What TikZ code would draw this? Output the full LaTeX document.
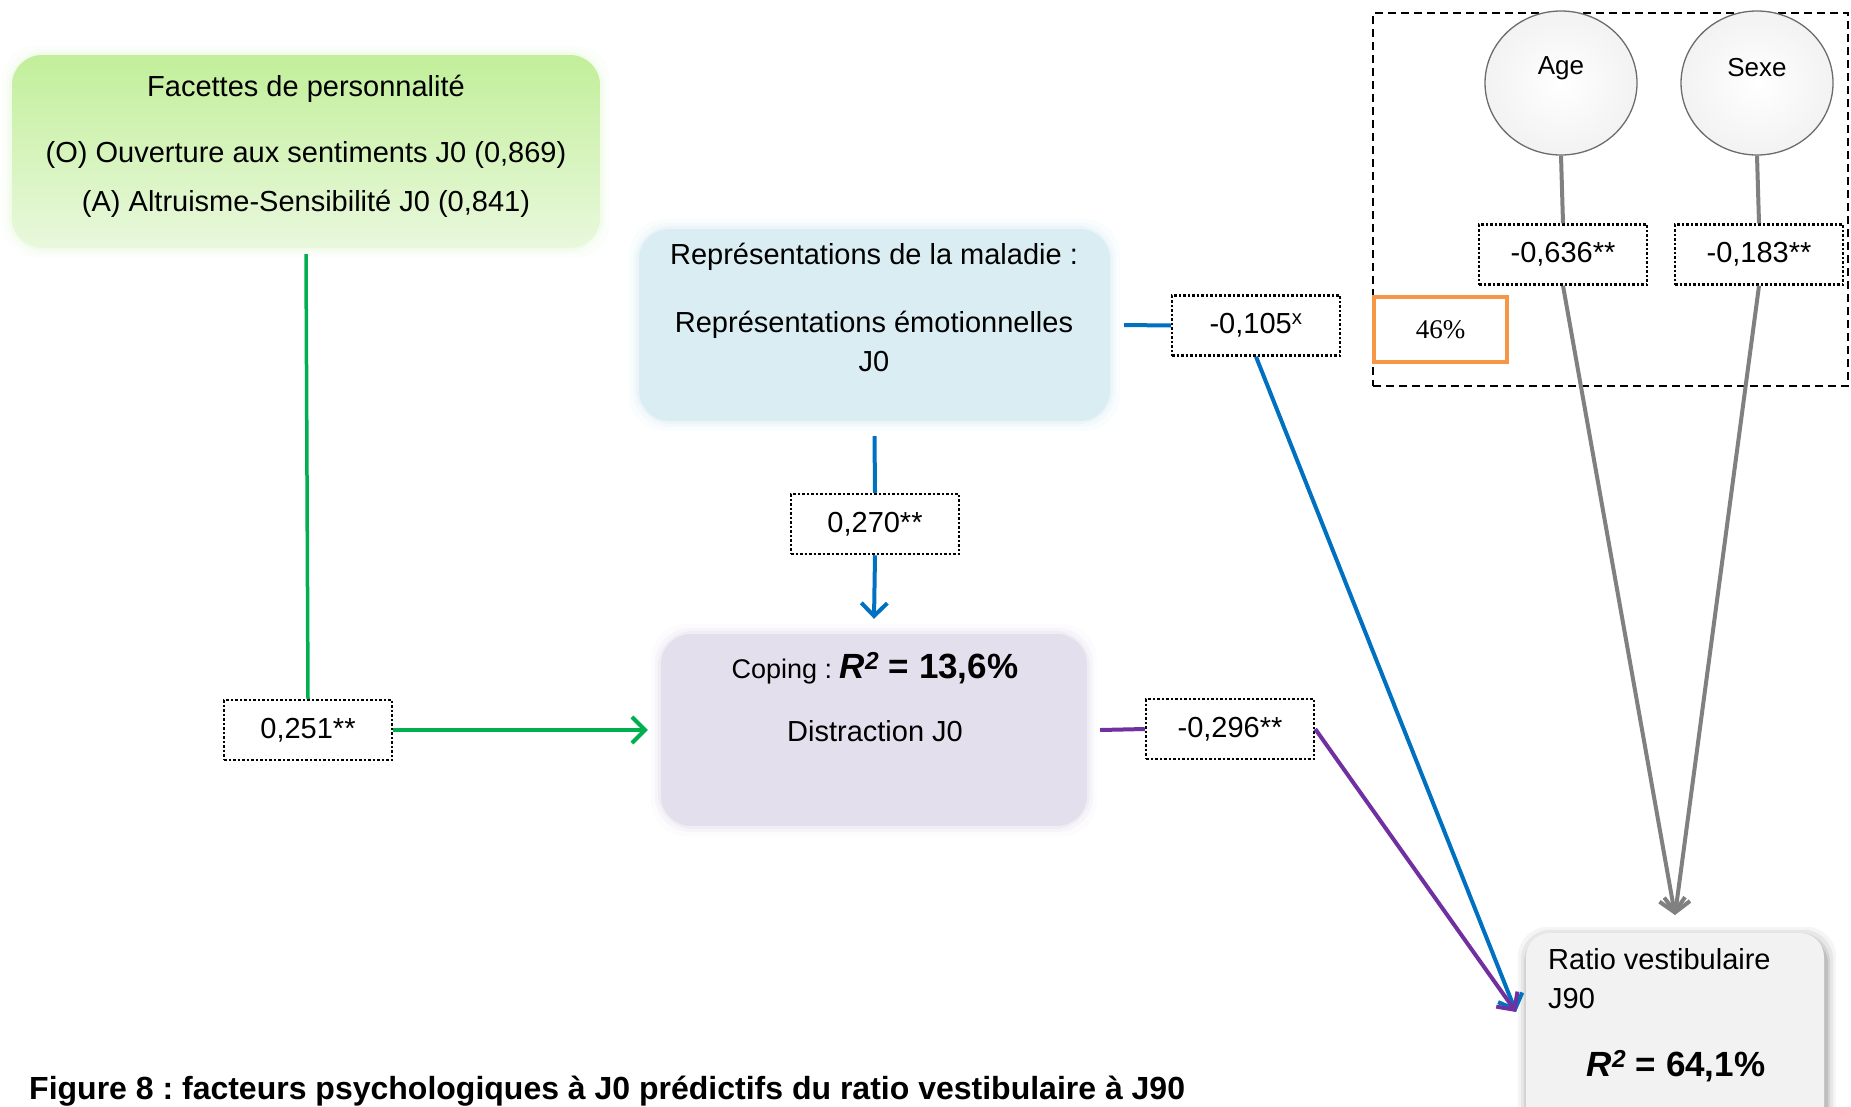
\documentclass[tikz,border=0pt]{standalone}
\usepackage{fontspec}
\setmainfont{Liberation Sans}
\newfontfamily\timesf{Liberation Serif}
\usetikzlibrary{arrows.meta,backgrounds,shapes.geometric}
\frenchspacing
\definecolor{cgreen}{HTML}{00B050}
\definecolor{cblue}{HTML}{0070C0}
\definecolor{cpurple}{HTML}{7030A0}
\definecolor{cgray}{HTML}{808080}
\definecolor{corange}{HTML}{F79646}
\definecolor{gtop}{HTML}{C2EF9A}
\definecolor{gbot}{HTML}{E9F8DD}
\definecolor{bfill}{HTML}{DAEDF3}
\definecolor{pfill}{HTML}{E4DFEC}
\definecolor{rfill}{HTML}{F2F2F2}
\tikzset{
  txt/.style={font=\fontsize{29}{34}\selectfont, inner sep=0pt},
  coef/.style={draw=black, dotted, line width=2.5pt, fill=white, minimum width=168pt, minimum height=60pt, inner sep=0pt, font=\fontsize{29}{34}\selectfont},
  panel/.style={rounded corners=30pt, inner sep=0pt},
  tipb/.style={-{Straight Barb[length=13pt,width=26pt]}},
  gline/.style={cgreen, line width=3.5pt},
  bline/.style={cblue, line width=4pt},
  pline/.style={cpurple, line width=4pt},
  grline/.style={cgray, line width=4pt},
  circ/.style={ellipse, draw=gray!85!black, line width=1.3pt, inner color=white, outer color=gray!10, minimum width=152pt, minimum height=144pt},
}
\begin{document}
\begin{tikzpicture}[x=1pt,y=-1pt]
\useasboundingbox (0,0) rectangle (1851,1106);

% panels
\node[panel, top color=gtop, bottom color=gbot, minimum width=588pt, minimum height=193pt] (fac) at (306,151.5) {};
\node[panel, fill=bfill, minimum width=471pt, minimum height=192pt] (rep) at (874.5,325) {};
\node[panel, fill=pfill, minimum width=426pt, minimum height=192pt] (cop) at (874,730) {};
\node[panel, rounded corners=24pt, fill=rfill, minimum width=298pt, minimum height=200pt] (rat) at (1675,1033) {};

\begin{scope}[on background layer]
  \foreach \n/\c in {fac/gbot, rep/bfill, cop/pfill}{
    \foreach \d/\o in {10/0.12, 6/0.2, 3/0.35}{
      \fill[\c, opacity=\o, rounded corners=36pt] ([shift={(-\d pt,\d pt)}]\n.north west) rectangle ([shift={(\d pt,-\d pt)}]\n.south east);
    }
  }
  \foreach \d/\o in {10/0.04, 7/0.06, 4/0.08, 2/0.1}{
    \fill[black, opacity=\o, rounded corners=30pt] ([shift={(-\d pt+2pt,\d pt-4pt)}]rat.north west) rectangle ([shift={(\d pt+2pt,-\d pt-6pt)}]rat.south east);
  }
\end{scope}

% texts in panels
\node[txt] (f1) at (306,89) {Facettes de personnalité};
\node[txt] (f2) at (306,155) {(O) Ouverture aux sentiments J0 (0,869)};
\node[txt] (f3) at (306,204) {(A) Altruisme-Sensibilité J0 (0,841)};
\node[txt] (r1) at (874,257) {Représentations de la maladie :};
\node[txt] (r2) at (874,325) {Représentations émotionnelles};
\node[txt] (r3) at (874,362) {J0};
\node[txt] (c1) at (875,668) {{\fontsize{27}{30}\selectfont Coping : }{\bfseries\fontsize{35}{40}\selectfont\itshape R\textsuperscript{2}\upshape{} = 13,6\%}};
\node[txt] (c2) at (875,731) {Distraction J0};
\node[txt, anchor=west] (v1) at (1548,959) {Ratio vestibulaire};
\node[txt, anchor=west] (v2) at (1548,998) {J90};
\node[txt, font=\bfseries\fontsize{35}{40}\selectfont] (v3) at (1676,1066) {\itshape R\textsuperscript{2}\upshape{} = 64,1\%};

% group box
\node[draw=black, line width=2pt, dash pattern=on 8pt off 5pt, minimum width=475pt, minimum height=373pt, inner sep=0pt] (grp) at (1610.5,199.5) {};
\node[circ] (age) at (1561,83) {};
\node[circ] (sexe) at (1757,83) {};
\node[font=\fontsize{26}{30}\selectfont, inner sep=0pt] (agetxt) at (1561,68) {Age};
\node[font=\fontsize{26}{30}\selectfont, inner sep=0pt] (sexetxt) at (1757,68) {Sexe};
\node[draw=corange, line width=4pt, fill=white, minimum width=133pt, minimum height=65pt, inner sep=0pt, font=\timesf\fontsize{27}{30}\selectfont] (pct) at (1440.5,329.5) {46\%};

% coefficient boxes
\node[coef] (b251) at (308,730) {0,251**};
\node[coef] (b270) at (875,524) {0,270**};
\node[coef] (b105) at (1256,325.5) {-0,105\textsuperscript{x}};
\node[coef] (b296) at (1230,729) {-0,296**};
\node[coef] (b636) at (1563,254.5) {-0,636**};
\node[coef] (b183) at (1759,254.5) {-0,183**};

\coordinate (tipR) at (1516,1012);
\coordinate (tipG) at (1675,915);

% connectors
\draw[gline] ([yshift=-6pt]fac.south) -- (b251.north);
\draw[gline, line width=4pt, tipb] (b251.east) -- ([xshift=-13pt]cop.west);
\draw[bline] ([yshift=-15pt]rep.south) -- (b270.north);
\draw[bline, tipb] (b270.south) -- ([yshift=15pt]cop.north);
\draw[bline] ([xshift=14pt]rep.east) -- (b105.west);
\draw[bline, tipb] (b105.south) -- (tipR);
\draw[pline] ([xshift=13pt]cop.east) -- (b296.west);
\draw[pline, tipb] (b296.east) -- (tipR);
\draw[grline] (age.south) -- (b636.north);
\draw[grline] (sexe.south) -- (b183.north);
\draw[grline, tipb] (b636.south) -- (tipG);
\draw[grline, tipb] (b183.south) -- (tipG);

% caption
\node[anchor=west, inner sep=0pt, font=\bfseries\fontsize{32}{36}\selectfont] (cap) at (29,1091) {Figure 8 : facteurs psychologiques à J0 prédictifs du ratio vestibulaire à J90};
\end{tikzpicture}
\end{document}
